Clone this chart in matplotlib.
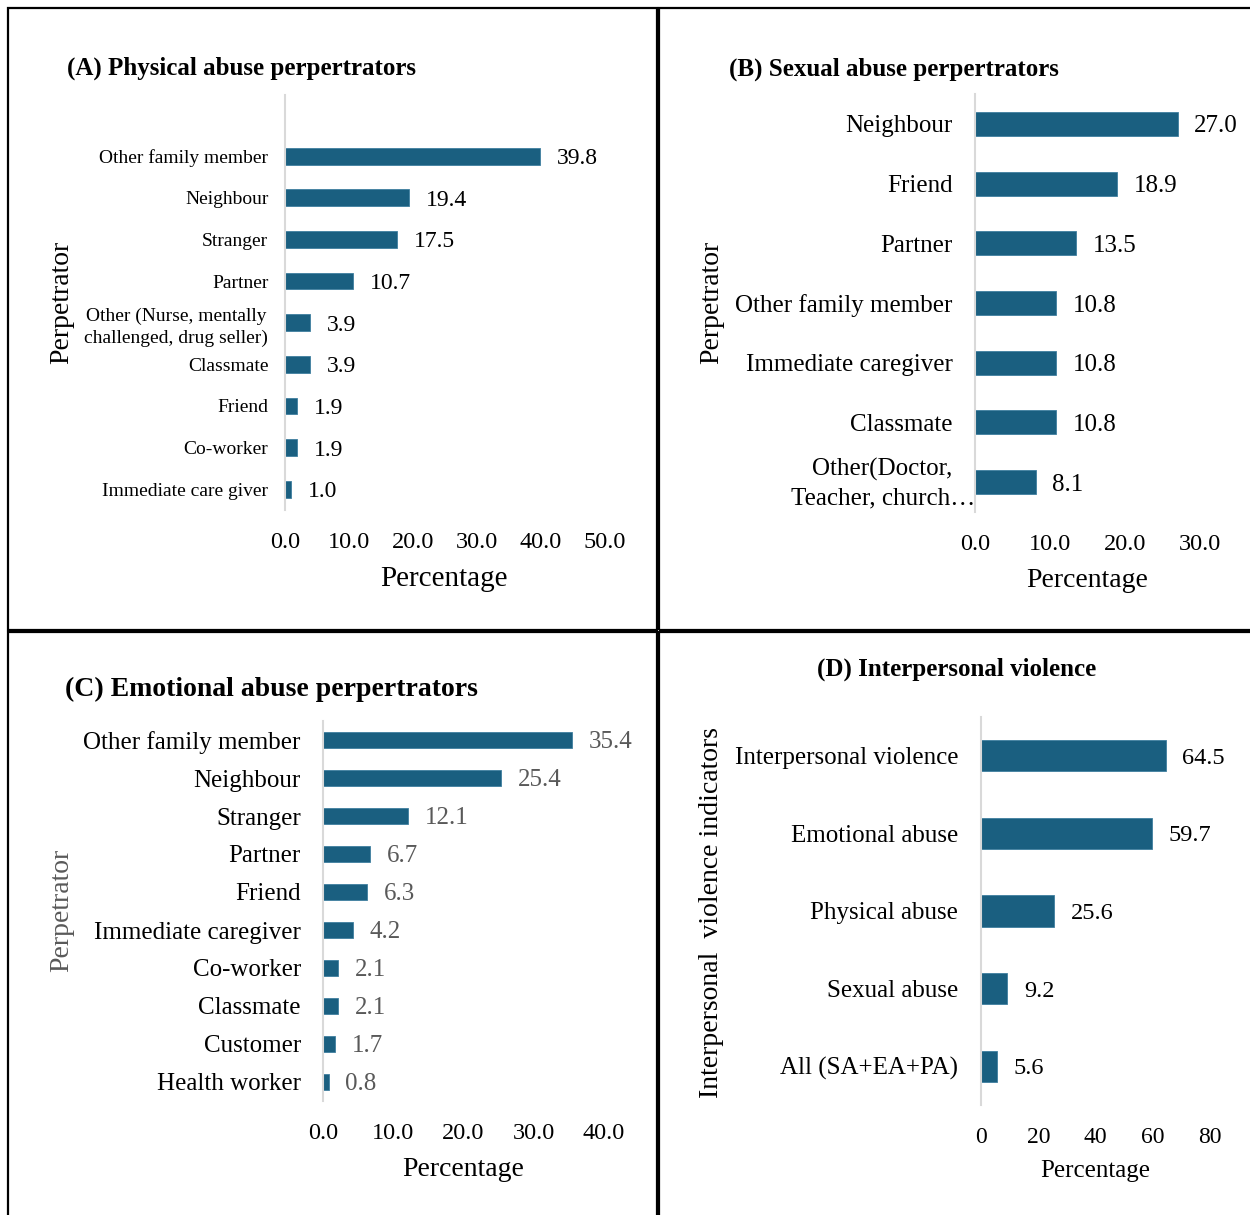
import matplotlib.pyplot as plt
from matplotlib.patches import Rectangle
from matplotlib.transforms import ScaledTranslation

plt.rcParams["font.family"] = ["Liberation Serif", "DejaVu Serif"]

W, H = 1250, 1215
BAR = "#1a5f80"
GRID = "#d9d9d9"
GRAY = "#595959"

# (A) Physical abuse perpetrators
phys_labels = ["Other family member", "Neighbour", "Stranger", "Partner",
               "Other (Nurse, mentally\nchallenged, drug seller)", "Classmate",
               "Friend", "Co-worker", "Immediate care giver"]
phys_values = [39.8, 19.4, 17.5, 10.7, 3.9, 3.9, 1.9, 1.9, 1.0]

# (B) Sexual abuse perpetrators
sex_labels = ["Neighbour", "Friend", "Partner", "Other family member",
              "Immediate caregiver", "Classmate", "Other(Doctor,\nTeacher, church\u2026"]
sex_values = [27.0, 18.9, 13.5, 10.8, 10.8, 10.8, 8.1]

# (C) Emotional abuse perpetrators
emo_labels = ["Other family member", "Neighbour", "Stranger", "Partner", "Friend",
              "Immediate caregiver", "Co-worker", "Classmate", "Customer",
              "Health worker"]
emo_values = [35.4, 25.4, 12.1, 6.7, 6.3, 4.2, 2.1, 2.1, 1.7, 0.8]

# (D) Interpersonal violence
ipv_labels = ["Interpersonal violence", "Emotional abuse", "Physical abuse",
              "Sexual abuse", "All (SA+EA+PA)"]
ipv_values = [64.5, 59.7, 25.6, 9.2, 5.6]


def px_axes(fig, x0, x1, y0, y1):
    return fig.add_axes([x0 / W, 1 - y1 / H, (x1 - x0) / W, (y1 - y0) / H])


def ftext(fig, x, y, s, **kw):
    kw.setdefault("va", "center")
    fig.text(x / W, 1 - y / H, s, **kw)


def panel(ax, labels, values, xmax, ticks, tick_fmt, ytop, cat_size, cat_pad,
          val_size, tick_size, val_color="black", tick_pad=15.5):
    n = len(values)
    pos = list(range(n))
    ax.barh(pos, values, height=0.4, color=BAR, edgecolor="#3f7f9f", linewidth=0.6)
    ax.set_ylim(n - 0.5, ytop)
    ax.set_xlim(0, xmax)
    for s in ["top", "right", "bottom"]:
        ax.spines[s].set_visible(False)
    ax.spines["left"].set_color(GRID)
    ax.spines["left"].set_linewidth(1.5)
    ax.set_yticks(pos, labels, fontsize=cat_size, multialignment="center",
                  linespacing=1.35)
    ax.set_xticks(ticks, [tick_fmt.format(t) for t in ticks], fontsize=tick_size)
    ax.tick_params(axis="y", length=0, pad=cat_pad)
    ax.tick_params(axis="x", length=0, pad=tick_pad)
    for i, v in enumerate(values):
        ax.annotate(f"{v:.1f}", xy=(v, i), xytext=(12, 0), textcoords="offset points",
                    va="center_baseline", ha="left", fontsize=val_size,
                    color=val_color)


fig = plt.figure(figsize=(W / 100, H / 100), dpi=100)

# panel frames
for (x0, x1, y0, y1) in [(8, 657, 8, 630), (659, 1252, 8, 630),
                         (8, 657, 632, 1217), (659, 1252, 632, 1217)]:
    fig.add_artist(Rectangle((x0 / W, 1 - y1 / H), (x1 - x0) / W, (y1 - y0) / H,
                             transform=fig.transFigure, fill=False,
                             edgecolor="black", linewidth=1.6))

axA = px_axes(fig, 285, 605, 95, 510)
panel(axA, phys_labels, phys_values, 50, [0, 10, 20, 30, 40, 50], "{:.1f}",
      -1.47, 14, 12, 17, 17.5)
ftext(fig, 67, 68, "(A) Physical abuse perpertrators", fontsize=18,
      fontweight="bold", ha="left")
ftext(fig, 62, 302, "Perpetrator", fontsize=20, rotation=90, ha="center")
ftext(fig, 444, 579, "Percentage", fontsize=21, ha="center")

axB = px_axes(fig, 975, 1200, 94, 512)
panel(axB, sex_labels, sex_values, 30, [0, 10, 20, 30], "{:.1f}",
      -0.5, 18, 16, 18, 17.5)
# the long last label runs up to the axis line in the original
last = axB.get_yticklabels()[-1]
last.set_transform(last.get_transform()
                   + ScaledTranslation(22 / 100, 4 / 100, fig.dpi_scale_trans))
ftext(fig, 729, 69, "(B) Sexual abuse perpertrators", fontsize=18,
      fontweight="bold", ha="left")
ftext(fig, 712, 302, "Perpetrator", fontsize=20, rotation=90, ha="center")
ftext(fig, 1087, 580, "Percentage", fontsize=20, ha="center")

axC = px_axes(fig, 323, 604, 721, 1101)
panel(axC, emo_labels, emo_values, 40, [0, 10, 20, 30, 40], "{:.1f}",
      -0.5, 18, 16, 18, 17.5, val_color=GRAY)
ftext(fig, 65, 689, "(C) Emotional abuse perpertrators", fontsize=20,
      fontweight="bold", ha="left")
ftext(fig, 62, 910, "Perpetrator", fontsize=20, rotation=90, ha="center",
      color=GRAY)
ftext(fig, 463, 1169, "Percentage", fontsize=20, ha="center")

axD = px_axes(fig, 981, 1210, 717, 1105)
panel(axD, ipv_labels, ipv_values, 80, [0, 20, 40, 60, 80], "{:.0f}",
      -0.5, 18, 16.5, 17.5, 17)
ftext(fig, 957, 669, "(D) Interpersonal violence", fontsize=18,
      fontweight="bold", ha="center")
ftext(fig, 712, 912, "Interpersonal  violence indicators", fontsize=20,
      rotation=90, ha="center")
ftext(fig, 1095, 1171, "Percentage", fontsize=18, ha="center")

fig.savefig("out.png", dpi=100)
